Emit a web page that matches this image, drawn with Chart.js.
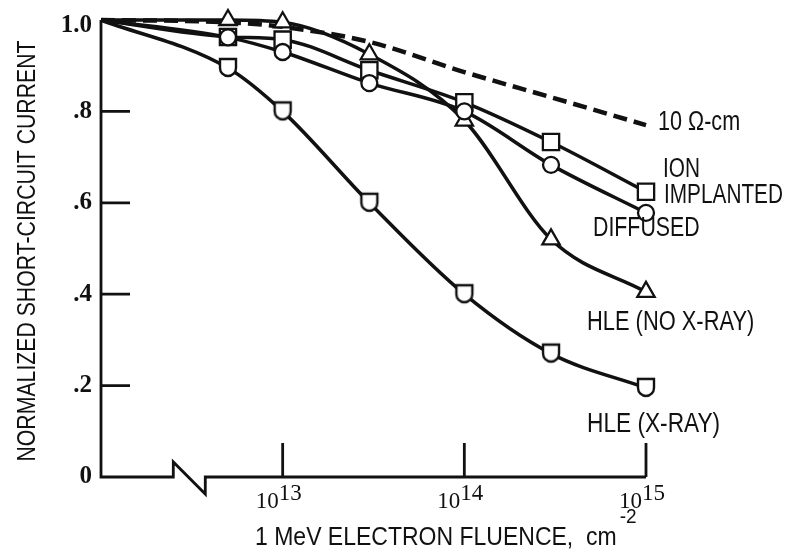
<!DOCTYPE html>
<html>
<head>
<meta charset="utf-8">
<title>Short-circuit current vs electron fluence</title>
<script src="https://cdn.jsdelivr.net/npm/chart.js@4.4.1/dist/chart.umd.min.js"></script>
<style>
  html, body { margin: 0; padding: 0; background: #fff; }
  #wrap { position: relative; width: 786px; height: 559px; }
</style>
</head>
<body>
<div id="wrap"><canvas id="chart"></canvas></div>
<script>
// --- Data ---
const fluence = [1e12, 5e12, 1e13, 3e13, 1e14, 3e14, 1e15];
const tenOhmCm = [1.0, 0.995, 0.985, 0.952, 0.886, 0.831, 0.77];
const ionImplanted = [1.0, 0.963, 0.957, 0.89, 0.82, 0.733, 0.624];
const diffused = [1.0, 0.962, 0.93, 0.862, 0.80, 0.683, 0.578];
const hleNoXray = [1.0, 1.0, 0.995, 0.925, 0.78, 0.52, 0.405];
const hleXray = [1.0, 0.895, 0.80, 0.60, 0.40, 0.27, 0.195];

const yTicks = [0, 0.2, 0.4, 0.6, 0.8, 1.0];
const yTickLabels = ['0', '.2', '.4', '.6', '.8', '1.0'];
const xTicks = [1e13, 1e14, 1e15];
const xTickExps = ['13', '14', '15'];

const SANS = '"Liberation Sans", Arial, sans-serif';
const SERIF = '"Liberation Serif", "DejaVu Serif", serif';
const INK = '#111';

const toPoints = (ys) => fluence.map((x, i) => ({ x, y: ys[i] }));
// first point of each curve is the normalisation origin, no marker there
const markerRadius = (r) => fluence.map((_, i) => (i === 0 ? 0 : r));

// condensed lettering: squeeze the sans face horizontally
function narrowText(ctx, text, x, y, size, squeeze, rotate) {
    ctx.save();
    ctx.translate(x, y);
    if (rotate) ctx.rotate(rotate);
    ctx.scale(squeeze, 1);
    ctx.font = size + 'px ' + SANS;
    ctx.fillText(text, 0, 0);
    const w = ctx.measureText(text).width * squeeze;
    ctx.restore();
    return w;
}

// shield-shaped marker (flat top, rounded bottom) for the x-ray curve
function makeShield() {
    const c = document.createElement('canvas');
    c.width = 24; c.height = 24;
    const g = c.getContext('2d');
    g.beginPath();
    g.moveTo(4, 3);
    g.lineTo(20, 3);
    g.lineTo(20, 12);
    g.arc(12, 12, 8, 0, Math.PI);
    g.closePath();
    g.fillStyle = '#fff';
    g.fill();
    g.lineWidth = 2.4;
    g.strokeStyle = INK;
    g.stroke();
    return c;
}

const lineBase = {
    showLine: true,
    borderColor: INK,
    borderWidth: 3.5,
    pointBackgroundColor: '#fff',
    pointBorderColor: INK,
    pointBorderWidth: 2.3,
    cubicInterpolationMode: 'monotone',
    clip: false
};

// --- Axes, ticks and labels drawn on the scales ---
const frame = {
    id: 'frame',
    beforeDatasetsDraw(chart) {
        const { ctx, chartArea: a } = chart;
        const xs = chart.scales.x, ys = chart.scales.y;
        const y0 = ys.getPixelForValue(0);
        const xLeft = xs.getPixelForValue(1e12);
        const xRight = xs.getPixelForValue(1e15);
        const bx = xs.getPixelForValue(2.5e12);

        ctx.save();
        ctx.strokeStyle = INK;
        ctx.lineWidth = 2.8;
        ctx.lineJoin = 'miter';

        // y axis
        ctx.beginPath();
        ctx.moveTo(xLeft, ys.getPixelForValue(1.0));
        ctx.lineTo(xLeft, y0);
        // x axis with break
        ctx.lineTo(bx, y0);
        ctx.lineTo(bx, y0 - 15);
        ctx.lineTo(bx + 32, y0 + 17);
        ctx.lineTo(bx + 32, y0);
        ctx.lineTo(xRight, y0);
        ctx.stroke();

        // inward ticks
        ctx.beginPath();
        yTicks.forEach((v) => {
            if (v === 0 || v === 1) return;
            const y = ys.getPixelForValue(v);
            ctx.moveTo(xLeft, y);
            ctx.lineTo(xLeft + 29, y);
        });
        xTicks.forEach((v) => {
            const x = xs.getPixelForValue(v);
            ctx.moveTo(x, y0);
            ctx.lineTo(x, y0 - 34);
        });
        ctx.stroke();

        // y tick labels
        ctx.fillStyle = INK;
        ctx.font = 'bold 25px ' + SERIF;
        ctx.textAlign = 'right';
        ctx.textBaseline = 'middle';
        yTicks.forEach((v, i) => {
            const y = Math.max(ys.getPixelForValue(v), a.top + 6);
            ctx.fillText(yTickLabels[i], xLeft - 9, y);
        });

        // x tick labels, 10 with superscript exponent
        ctx.textBaseline = 'alphabetic';
        ctx.font = '23px ' + SERIF;
        xTicks.forEach((v, i) => {
            const x = xs.getPixelForValue(v) - 4;
            ctx.textAlign = 'right';
            ctx.fillText('10', x, y0 + 31);
            ctx.textAlign = 'left';
            ctx.fillText(xTickExps[i], x, y0 + 23);
        });

        // axis titles
        ctx.textAlign = 'left';
        const tw = narrowText(ctx, '1 MeV ELECTRON FLUENCE,  cm', 255, y0 + 68, 25, 0.92);
        narrowText(ctx, '-2', 255 + tw + 3, y0 + 46, 20, 0.95);

        ctx.textAlign = 'center';
        narrowText(ctx, 'NORMALIZED SHORT-CIRCUIT CURRENT', 35, 251, 25, 0.85, -Math.PI / 2);

        ctx.restore();
    },
    afterDraw(chart) {
        const { ctx } = chart;
        const xs = chart.scales.x, ys = chart.scales.y;
        const xEnd = xs.getPixelForValue(1e15);
        const last = (arr) => ys.getPixelForValue(arr[arr.length - 1]);

        ctx.save();
        ctx.fillStyle = INK;
        ctx.textAlign = 'left';
        ctx.textBaseline = 'middle';
        const fs = 27;
        narrowText(ctx, '10 \u03A9-cm', xEnd + 12, last(tenOhmCm) - 3, fs, 0.8);
        narrowText(ctx, 'ION', xEnd + 17, last(ionImplanted) - 22, fs, 0.77);
        narrowText(ctx, 'IMPLANTED', xEnd + 18, last(ionImplanted) + 4, fs, 0.77);
        narrowText(ctx, 'DIFFUSED', xEnd - 53, last(diffused) + 16, fs, 0.79);
        narrowText(ctx, 'HLE (NO X-RAY)', xEnd - 59, last(hleNoXray) + 31, fs, 0.81);
        narrowText(ctx, 'HLE (X-RAY)', xEnd - 59, last(hleXray) + 37, fs, 0.84);
        ctx.restore();
    }
};

new Chart(document.getElementById('chart'), {
    type: 'scatter',
    data: {
        datasets: [
            {
                ...lineBase,
                label: 'HLE (X-RAY)',
                data: toPoints(hleXray),
                pointStyle: makeShield(),
                pointRadius: markerRadius(9)
            },
            {
                ...lineBase,
                label: 'DIFFUSED',
                data: toPoints(diffused),
                pointStyle: 'circle',
                pointRadius: markerRadius(8)
            },
            {
                ...lineBase,
                label: 'ION IMPLANTED',
                data: toPoints(ionImplanted),
                pointStyle: 'rect',
                pointRadius: markerRadius(11.5)
            },
            {
                ...lineBase,
                label: 'HLE (NO X-RAY)',
                data: toPoints(hleNoXray),
                pointStyle: 'triangle',
                pointRadius: markerRadius(10)
            },
            {
                ...lineBase,
                label: '10 \u03A9-cm',
                data: toPoints(tenOhmCm),
                borderWidth: 4.5,
                borderDash: [14, 7],
                pointRadius: 0
            }
        ]
    },
    options: {
        responsive: true,
        maintainAspectRatio: false,
        animation: false,
        events: [],
        layout: { padding: { left: 101, top: 20, right: 140, bottom: 82 } },
        scales: {
            x: { type: 'logarithmic', min: 1e12, max: 1e15, display: false },
            y: { min: 0, max: 1, display: false }
        },
        plugins: {
            legend: { display: false },
            tooltip: { enabled: false }
        }
    },
    plugins: [frame]
});
</script>
</body>
</html>
